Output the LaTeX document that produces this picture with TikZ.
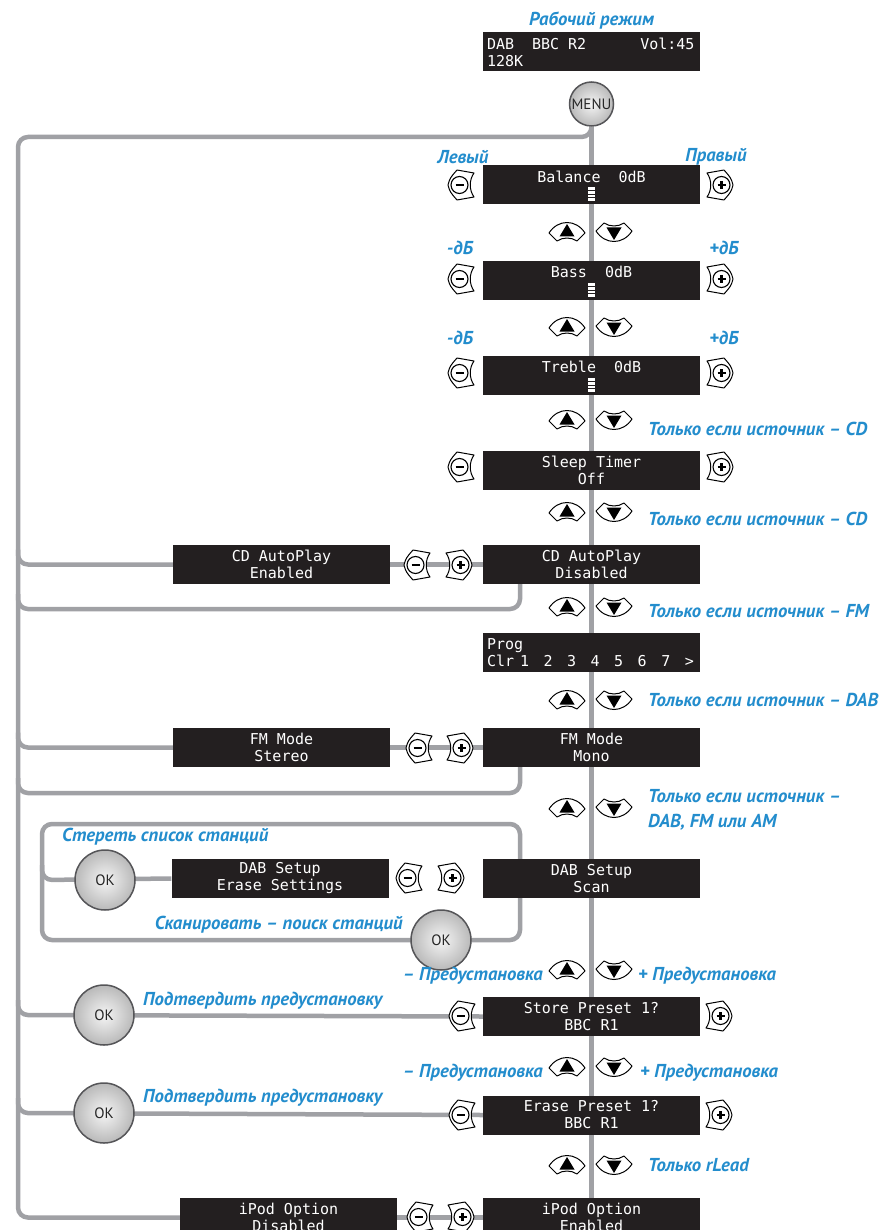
\documentclass[tikz,border=0pt]{standalone}
\usepackage{fontspec}
\newfontfamily\lcdfont{DejaVu Sans Mono}
\newfontfamily\tagfont{PT Sans}
\newcommand\lcdsp{\hspace{0.6em}}
\usetikzlibrary{calc}
\pgfdeclarelayer{back}
\pgfsetlayers{back,main}

\tikzset{
  lcd/.style={fill=lcdColor, text=white, minimum width=217, minimum height=39, inner sep=0pt, align=center, font=\lcdfont\fontsize{15}{17}\selectfont},
  lcdleft/.style={lcd, align=left, text width=209},
  tag/.style={text=tagColor, inner sep=0pt, font=\tagfont\bfseries\itshape\fontsize{18.7}{25}\selectfont},
  wire/.style={draw=wireColor, line width=4.5, rounded corners=10},
  okbtn/.style={circle, draw=edgeColor, line width=1.5, inner color=white!92!gray, outer color=gray!55, minimum size=60, inner sep=0pt, text=black!85, font=\tagfont\fontsize{15}{15}\selectfont},
  pmcore/.style={circle, draw=black, line width=1.1, minimum size=17, inner sep=0pt},
  minusbtn/.pic={
    \path[draw=black, line width=1, line join=round, fill=white] (-14,0) .. controls (-12,-7) .. (-5,-15) -- (12,-12) .. controls (7,-5) and (7,5) .. (12,12) -- (-5,15) .. controls (-12,7) .. cycle;
    \node[pmcore] (-c) at (-2.5,0) {};
    \draw[line width=2.2] (-6.5,0) -- (1.5,0);
  },
  plusbtn/.pic={
    \path[draw=black, line width=1, line join=round, fill=white] (14,0) .. controls (12,-7) .. (5,-15) -- (-12,-12) .. controls (-7,-5) and (-7,5) .. (-12,12) -- (5,15) .. controls (12,7) .. cycle;
    \node[pmcore] (-c) at (2.5,0) {};
    \draw[line width=2.2] (-1.5,0) -- (6.5,0) (2.5,-4) -- (2.5,4);
  },
  upbtn/.pic={
    \path[draw=black, line width=1, line join=round, fill=white] (-18,1) .. controls (-9,-13) and (9,-13) .. (18,1) -- (10,9) .. controls (4,5) and (-4,5) .. (-10,9) -- cycle;
    \fill (-7.5,4.5) -- (7.5,4.5) -- (0,-8) -- cycle;
  },
  downbtn/.pic={
    \path[draw=black, line width=1, line join=round, fill=white] (-18,-1) .. controls (-9,13) and (9,13) .. (18,-1) -- (10,-9) .. controls (4,-5) and (-4,-5) .. (-10,-9) -- cycle;
    \fill (-7.5,-4.5) -- (7.5,-4.5) -- (0,8) -- cycle;
  },
  cursor/.pic={
    \fill[white] (-3.5,-7) rectangle (3.5,7);
    \draw[lcdColor, line width=0.7] (-3.5,-3.5) -- (3.5,-3.5) (-3.5,0) -- (3.5,0) (-3.5,3.5) -- (3.5,3.5);
  }
}

\begin{document}
\begin{tikzpicture}[x=1pt,y=-1pt]
\definecolor{lcdColor}{RGB}{35,31,32}
\definecolor{tagColor}{RGB}{35,141,205}
\definecolor{wireColor}{RGB}{160,161,165}
\definecolor{edgeColor}{RGB}{85,85,88}
\useasboundingbox (0,0) rectangle (881,1230);

% operating mode
\node[tag] (modeTag) at (591.5,21) {Рабочий режим};
\node[lcdleft] (modeLcd) at (591.5,52) {DAB\lcdsp\lcdsp BBC\lcdsp R2\lcdsp\lcdsp\lcdsp\lcdsp\lcdsp\lcdsp Vol:45\\128K};
\node[okbtn, minimum size=44, font=\tagfont\fontsize{15}{15}\selectfont] (menu) at (591.5,104) {MENU};

% balance, bass, treble
\node[tag] (leftTag) at (463,157) {Левый};
\node[tag] (rightTag) at (716,157) {Правый};
\node[lcd] (balance) at (591.5,185) {Balance\lcdsp\lcdsp 0dB\\\phantom{0}};
\pic at (591.5,194) {cursor};
\pic (balMinus) at (462,185) {minusbtn};
\pic (balPlus) at (719,185) {plusbtn};
\pic at (567,232) {upbtn};
\pic at (614,232) {downbtn};

\node[tag] (bassDown) at (460,248) {-дБ};
\node[tag] (bassUp) at (724,248) {+дБ};
\node[lcd] (bass) at (591.5,280.5) {Bass\lcdsp\lcdsp 0dB\\\phantom{0}};
\pic at (591.5,290) {cursor};
\pic (bassMinus) at (462,279) {minusbtn};
\pic (bassPlus) at (719,279) {plusbtn};
\pic at (567,327) {upbtn};
\pic at (614,327) {downbtn};

\node[tag] (trebDown) at (460,338) {-дБ};
\node[tag] (trebUp) at (724,338) {+дБ};
\node[lcd] (treble) at (591.5,375.5) {Treble\lcdsp\lcdsp 0dB\\\phantom{0}};
\pic at (591.5,385) {cursor};
\pic (trebMinus) at (462,373) {minusbtn};
\pic (trebPlus) at (719,373) {plusbtn};
\pic at (567,420) {upbtn};
\pic at (614,420) {downbtn};
\node[tag, anchor=west] (cdOnly1) at (648,429) {Только если источник – CD};

% sleep timer
\node[lcd] (sleep) at (591.5,470.5) {Sleep\lcdsp Timer\\Off};
\pic (sleepMinus) at (462,467) {minusbtn};
\pic (sleepPlus) at (719,467) {plusbtn};
\pic at (567,512) {upbtn};
\pic at (614,512) {downbtn};
\node[tag, anchor=west] (cdOnly2) at (648,519) {Только если источник – CD};

% cd autoplay
\node[lcd] (cdOff) at (591.5,564.5) {CD\lcdsp AutoPlay\\Disabled};
\node[lcd] (cdOn) at (281.5,564.5) {CD\lcdsp AutoPlay\\Enabled};
\pic (cdMinus) at (418,565) {minusbtn};
\pic (cdPlus) at (458,565) {plusbtn};
\pic at (567,607) {upbtn};
\pic at (614,607) {downbtn};
\node[tag, anchor=west] (fmOnly) at (648,611) {Только если источник – FM};

% programme
\node[lcdleft] (prog) at (591.5,652.5) {Prog\\Clr\hspace{6pt}1\hspace{14.5pt}2\hspace{14.5pt}3\hspace{14.5pt}4\hspace{14.5pt}5\hspace{14.5pt}6\hspace{14.5pt}7\hspace{14.5pt}>};
\pic at (567,700) {upbtn};
\pic at (614,700) {downbtn};
\node[tag, anchor=west] (dabOnly) at (648,700) {Только если источник – DAB};

% fm mode
\node[lcd] (fmMono) at (591.5,747.5) {FM\lcdsp Mode\\Mono};
\node[lcd] (fmStereo) at (281.5,747.5) {FM\lcdsp Mode\\Stereo};
\pic (fmMinus) at (420,748) {minusbtn};
\pic (fmPlus) at (459,748) {plusbtn};
\pic at (567,808) {upbtn};
\pic at (614,808) {downbtn};
\node[tag, anchor=west, align=left] (tunerOnly) at (648,810) {Только если источник –\\DAB, FM или AM};

% dab setup
\node[tag, anchor=west] (eraseTag) at (62,837) {Стереть список станций};
\node[lcd] (dabScan) at (591.5,878.5) {DAB\lcdsp Setup\\Scan};
\node[lcd] (dabErase) at (280,878.5) {DAB\lcdsp Setup\\Erase\lcdsp Settings};
\node[okbtn] (eraseOk) at (105,880) {OK};
\pic (dabMinus) at (410,878) {minusbtn};
\pic (dabPlus) at (450,878) {plusbtn};
\node[tag, anchor=east] (scanTag) at (403,925) {Сканировать – поиск станций};
\node[okbtn] (scanOk) at (441,940) {OK};

% store preset
\pic at (567,970) {upbtn};
\pic at (614,970) {downbtn};
\node[tag, anchor=east] (prevTag1) at (543,976) {– Предустановка};
\node[tag, anchor=west] (nextTag1) at (638,976) {+ Предустановка};
\node[tag, anchor=west] (confirmTag1) at (143,1001) {Подтвердить предустановку};
\node[okbtn] (storeOk) at (104,1015) {OK};
\node[lcd] (store) at (591.5,1016.5) {Store\lcdsp Preset\lcdsp 1?\\BBC\lcdsp R1};
\pic (storeMinus) at (463,1016) {minusbtn};
\pic (storePlus) at (718,1016) {plusbtn};

% erase preset
\pic at (567,1067) {upbtn};
\pic at (614,1067) {downbtn};
\node[tag, anchor=east] (prevTag2) at (543,1073) {– Предустановка};
\node[tag, anchor=west] (nextTag2) at (640,1073) {+ Предустановка};
\node[tag, anchor=west] (confirmTag2) at (143,1098) {Подтвердить предустановку};
\node[okbtn] (eraseOk2) at (104,1113) {OK};
\node[lcd] (erase) at (591.5,1115) {Erase\lcdsp Preset\lcdsp 1?\\BBC\lcdsp R1};
\pic (eraseMinus) at (463,1115) {minusbtn};
\pic (erasePlus) at (718,1115) {plusbtn};

% ipod option
\pic at (567,1165) {upbtn};
\pic at (614,1165) {downbtn};
\node[tag, anchor=west] (rleadOnly) at (648,1165) {Только rLead};
\node[lcd] (ipodOn) at (591.5,1217.5) {iPod\lcdsp Option\\Enabled};
\node[lcd] (ipodOff) at (288.5,1217.5) {iPod\lcdsp Option\\Disabled};
\pic (ipodMinus) at (421,1217) {minusbtn};
\pic (ipodPlus) at (460,1217) {plusbtn};

% grey wiring behind everything
\coordinate (lt) at (18,137);
\coordinate (cdRet) at (520,609);
\coordinate (fmRet) at (520,793);
\coordinate (dabTl) at (42,824);
\coordinate (dabBr) at (520,940);
\coordinate (bottom) at (591.5,1240);
\begin{pgfonlayer}{back}
\fill[white] (0,0) rectangle (881,1230);
\draw[wire] (menu) -- (bottom);
\draw[wire] (menu) -- (menu |- lt) -- (lt) -- (lt |- ipodOff) -- (ipodOff.west);
\draw[wire] ([yshift=15]lt |- cdOn) -- (lt |- cdOn) -- (cdOn.west);
\draw[wire] ([yshift=15]lt |- cdRet) -- (lt |- cdRet) -- (cdRet) -- (cdRet |- cdOff.south);
\draw[wire] (cdOn.east) -- (cdOff.west);
\draw[wire] ([yshift=15]lt |- fmStereo) -- (lt |- fmStereo) -- (fmStereo.west);
\draw[wire] ([yshift=15]lt |- fmRet) -- (lt |- fmRet) -- (fmRet) -- (fmRet |- fmMono.south);
\draw[wire] (fmStereo.east) -- (fmMono.west);
\draw[wire] (dabBr |- dabScan.north) -- (dabBr |- dabTl) -- (dabTl) -- (dabTl |- dabBr) -- (dabBr) -- (dabBr |- dabScan.south);
\draw[wire] ([yshift=15]dabTl |- eraseOk) -- (dabTl |- eraseOk) -- (dabErase.west);
\draw[wire] ([yshift=15]lt |- storeOk) -- (lt |- storeOk) -- (store.west);
\draw[wire] ([yshift=15]lt |- eraseOk2) -- (lt |- eraseOk2) -- (erase.west);
\draw[wire] (ipodOff.east) -- (ipodOn.west);
\end{pgfonlayer}
\end{tikzpicture}
\end{document}
